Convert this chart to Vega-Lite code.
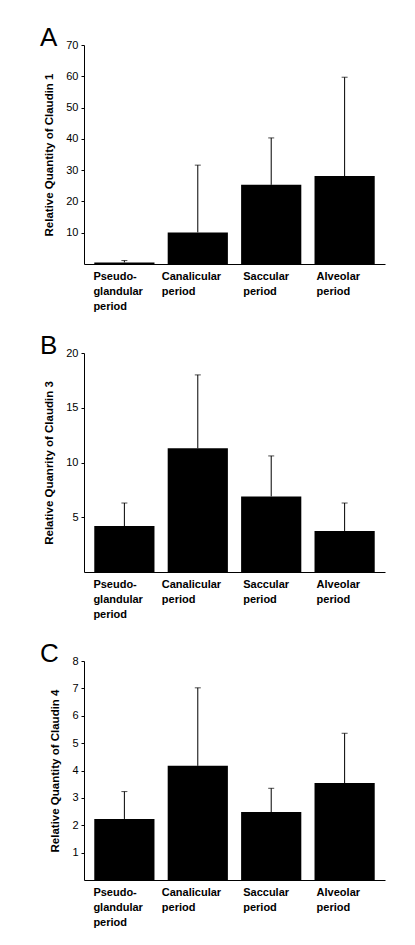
{
  "$schema": "https://vega.github.io/schema/vega-lite/v6.json",
  "padding": {"left": 40, "top": 25, "right": 5, "bottom": 5},
  "background": "white",
  "bounds": "flush",
  "spacing": 89,
  "datasets": {
    "claudin1": [
      {"period": "Pseudo-glandular period", "mean": 0.5, "upper": 1.1},
      {"period": "Canalicular period", "mean": 10.1, "upper": 31.6},
      {"period": "Saccular period", "mean": 25.3, "upper": 40.3},
      {"period": "Alveolar period", "mean": 28.1, "upper": 59.7}
    ],
    "claudin3": [
      {"period": "Pseudo-glandular period", "mean": 4.2, "upper": 6.3},
      {"period": "Canalicular period", "mean": 11.3, "upper": 18.0},
      {"period": "Saccular period", "mean": 6.9, "upper": 10.6},
      {"period": "Alveolar period", "mean": 3.75, "upper": 6.3}
    ],
    "claudin4": [
      {"period": "Pseudo-glandular period", "mean": 2.23, "upper": 3.23},
      {"period": "Canalicular period", "mean": 4.17, "upper": 7.02},
      {"period": "Saccular period", "mean": 2.48, "upper": 3.35},
      {"period": "Alveolar period", "mean": 3.54, "upper": 5.36}
    ]
  },
  "config": {
    "view": {"stroke": null},
    "font": "Liberation Sans",
    "axis": {
      "grid": false,
      "domainColor": "black",
      "tickColor": "black",
      "labelColor": "black",
      "titleColor": "black",
      "labelFont": "Liberation Sans",
      "titleFont": "Liberation Sans"
    },
    "axisY": {
      "tickSize": 3,
      "labelFontSize": 11,
      "labelPadding": 3,
      "labelOverlap": false,
      "titleFontSize": 11.5,
      "titleFontWeight": "bold",
      "titlePadding": 11
    },
    "axisX": {
      "ticks": false,
      "labelAngle": 0,
      "labelFontSize": 11,
      "labelFontWeight": "bold",
      "labelLineHeight": 15,
      "labelPadding": 6,
      "labelBaseline": "top",
      "labelAlign": "left",
      "labelOffset": {"expr": "datum.value == 'Canalicular period' ? -36 : datum.value == 'Pseudo-glandular period' ? -31 : -28"},
      "labelExpr": "datum.value == 'Pseudo-glandular period' ? ['Pseudo-', 'glandular', 'period'] : split(datum.value, ' ')",
      "title": null
    },
    "title": {
      "anchor": "start",
      "frame": "group",
      "fontSize": 26,
      "fontWeight": "normal",
      "font": "Liberation Sans",
      "color": "black",
      "dx": -44,
      "offset": -12
    }
  },
  "vconcat": [
    {
      "data": {"name": "claudin1"},
      "title": {"text": "A"},
      "width": 301,
      "height": 219,
      "encoding": {
        "x": {"field": "period", "type": "nominal", "sort": null, "scale": {"paddingInner": 0.18, "paddingOuter": 0.14}}
      },
      "layer": [
        {"mark": {"type": "bar", "color": "black"},
         "encoding": {"y": {"field": "mean", "type": "quantitative", "scale": {"domain": [0, 70], "nice": false},
           "axis": {"title": "Relative Quantity of Claudin 1", "values": [10, 20, 30, 40, 50, 60, 70], "labelOverlap": false}}}},
        {"mark": {"type": "rule", "color": "black", "strokeWidth": 1},
         "encoding": {"y": {"field": "mean", "type": "quantitative",
           "axis": {"title": "Relative Quantity of Claudin 1", "values": [10, 20, 30, 40, 50, 60, 70], "labelOverlap": false}}, "y2": {"field": "upper"}}},
        {"mark": {"type": "tick", "color": "black", "orient": "horizontal", "size": 6, "thickness": 1},
         "encoding": {"y": {"field": "upper", "type": "quantitative",
           "axis": {"title": "Relative Quantity of Claudin 1", "values": [10, 20, 30, 40, 50, 60, 70], "labelOverlap": false}}}}
      ]
    },
    {
      "data": {"name": "claudin3"},
      "title": {"text": "B"},
      "width": 301,
      "height": 219,
      "encoding": {
        "x": {"field": "period", "type": "nominal", "sort": null, "scale": {"paddingInner": 0.18, "paddingOuter": 0.14}}
      },
      "layer": [
        {"mark": {"type": "bar", "color": "black"},
         "encoding": {"y": {"field": "mean", "type": "quantitative", "scale": {"domain": [0, 20], "nice": false},
           "axis": {"title": "Relative Quanrity of Claudin 3", "values": [5, 10, 15, 20], "labelOverlap": false}}}},
        {"mark": {"type": "rule", "color": "black", "strokeWidth": 1},
         "encoding": {"y": {"field": "mean", "type": "quantitative",
           "axis": {"title": "Relative Quanrity of Claudin 3", "values": [5, 10, 15, 20], "labelOverlap": false}}, "y2": {"field": "upper"}}},
        {"mark": {"type": "tick", "color": "black", "orient": "horizontal", "size": 6, "thickness": 1},
         "encoding": {"y": {"field": "upper", "type": "quantitative",
           "axis": {"title": "Relative Quanrity of Claudin 3", "values": [5, 10, 15, 20], "labelOverlap": false}}}}
      ]
    },
    {
      "data": {"name": "claudin4"},
      "title": {"text": "C"},
      "width": 301,
      "height": 219,
      "encoding": {
        "x": {"field": "period", "type": "nominal", "sort": null, "scale": {"paddingInner": 0.18, "paddingOuter": 0.14}}
      },
      "layer": [
        {"mark": {"type": "bar", "color": "black"},
         "encoding": {"y": {"field": "mean", "type": "quantitative", "scale": {"domain": [0, 8], "nice": false},
           "axis": {"title": "Relative Quantity of Claudin 4", "values": [1, 2, 3, 4, 5, 6, 7, 8], "labelOverlap": false}}}},
        {"mark": {"type": "rule", "color": "black", "strokeWidth": 1},
         "encoding": {"y": {"field": "mean", "type": "quantitative",
           "axis": {"title": "Relative Quantity of Claudin 4", "values": [1, 2, 3, 4, 5, 6, 7, 8], "labelOverlap": false}}, "y2": {"field": "upper"}}},
        {"mark": {"type": "tick", "color": "black", "orient": "horizontal", "size": 6, "thickness": 1},
         "encoding": {"y": {"field": "upper", "type": "quantitative",
           "axis": {"title": "Relative Quantity of Claudin 4", "values": [1, 2, 3, 4, 5, 6, 7, 8], "labelOverlap": false}}}}
      ]
    }
  ]
}
